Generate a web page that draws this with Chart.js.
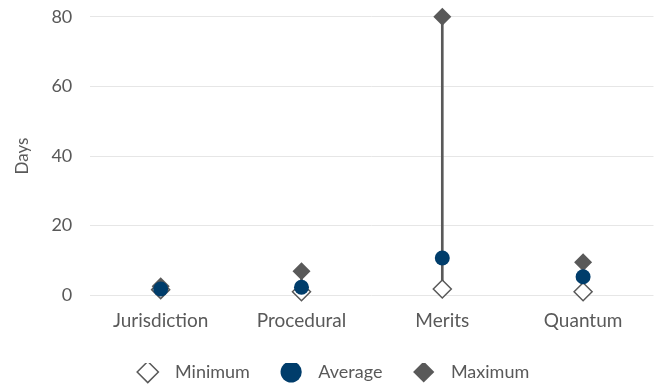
<!DOCTYPE html>
<html lang="en">
<head>
    <meta charset="UTF-8">
    <title>Days by Phase</title>
    <script src="https://cdn.jsdelivr.net/npm/chart.js"></script>
    <style>
        body {
            margin: 0;
            background-color: white;
        }
        .chart-container {
            width: 664px;
            height: 387px;
        }
    </style>
</head>
<body>
    <div class="chart-container">
        <canvas id="daysChart"></canvas>
    </div>

    <script>
        const phases = ['Jurisdiction', 'Procedural', 'Merits', 'Quantum'];
        const minimumDays = [1.6, 1.0, 1.8, 1.0];
        const averageDays = [1.8, 2.3, 10.7, 5.3];
        const maximumDays = [2.6, 6.9, 80, 9.5];
        const yTicks = [0, 20, 40, 60, 80];

        const grey = '#595959';
        const navy = '#003D6B';
        const fontFamily = 'Lato, sans-serif';

        // min-to-max stems as thin floating bars
        const ranges = phases.map((p, i) => [minimumDays[i], maximumDays[i]]);

        // the legend reserves 10px under its row; take some of it back
        const tightLegend = {
            id: 'tightLegend',
            beforeInit(chart) {
                const fit = chart.legend.fit;
                chart.legend.fit = function () {
                    fit.call(this);
                    this.height -= 4;
                };
            }
        };

        new Chart(document.getElementById('daysChart'), {
            plugins: [tightLegend],
            data: {
                labels: phases,
                datasets: [
                    {
                        type: 'line',
                        label: 'Minimum',
                        data: minimumDays,
                        showLine: false,
                        clip: false,
                        pointStyle: 'rectRot',
                        pointRadius: 9,
                        pointBorderWidth: 1.5,
                        pointBackgroundColor: 'white',
                        pointBorderColor: grey,
                        backgroundColor: 'white',
                        borderColor: grey,
                        order: 2
                    },
                    {
                        type: 'line',
                        label: 'Average',
                        data: averageDays,
                        showLine: false,
                        clip: false,
                        pointStyle: 'circle',
                        pointRadius: 7.5,
                        pointBorderWidth: 0,
                        pointBackgroundColor: navy,
                        backgroundColor: navy,
                        borderColor: navy,
                        order: 0
                    },
                    {
                        type: 'line',
                        label: 'Maximum',
                        data: maximumDays,
                        showLine: false,
                        clip: false,
                        pointStyle: 'rectRot',
                        pointRadius: 9,
                        pointBorderWidth: 0,
                        pointBackgroundColor: grey,
                        backgroundColor: grey,
                        borderColor: grey,
                        order: 1
                    },
                    {
                        type: 'bar',
                        label: 'Range',
                        data: ranges,
                        backgroundColor: grey,
                        barThickness: 2,
                        clip: false,
                        order: 3
                    }
                ]
            },
            options: {
                responsive: true,
                maintainAspectRatio: false,
                animation: false,
                layout: {
                    padding: { top: 0, right: 2, left: 6, bottom: 0 }
                },
                scales: {
                    x: {
                        offset: true,
                        grid: { display: false },
                        border: { display: false },
                        ticks: {
                            color: grey,
                            padding: 6,
                            font: { family: fontFamily, size: 19 }
                        },
                        // leave room between the category labels and the legend
                        afterFit: axis => { axis.height += 25; }
                    },
                    y: {
                        min: 0,
                        max: 80,
                        afterBuildTicks: axis => {
                            axis.ticks = yTicks.map(v => ({ value: v }));
                        },
                        grid: {
                            color: '#E6E6E6',
                            lineWidth: 1,
                            drawTicks: true,
                            tickLength: 12,
                            tickColor: 'rgba(0,0,0,0)'
                        },
                        border: { display: false },
                        title: {
                            display: true,
                            text: 'Days',
                            color: grey,
                            padding: { top: 6, bottom: 13 },
                            font: { family: fontFamily, size: 17 }
                        },
                        ticks: {
                            color: grey,
                            padding: 6,
                            font: { family: fontFamily, size: 18 }
                        }
                    }
                },
                plugins: {
                    tooltip: { enabled: false },
                    legend: {
                        position: 'bottom',
                        labels: {
                            usePointStyle: true,
                            boxHeight: 15,
                            padding: 0,
                            color: grey,
                            font: { family: fontFamily, size: 18 },
                            generateLabels: chart => {
                                const items = Chart.defaults.plugins.legend.labels.generateLabels(chart)
                                    .filter(item => item.text !== 'Range')
                                    .sort((a, b) => a.datasetIndex - b.datasetIndex);
                                return items.map((item, i) => {
                                    const gap = i < items.length - 1 ? '       ' : '';
                                    item.text = '  ' + item.text + gap;
                                    return item;
                                });
                            }
                        }
                    }
                }
            }
        });
    </script>
</body>
</html>
